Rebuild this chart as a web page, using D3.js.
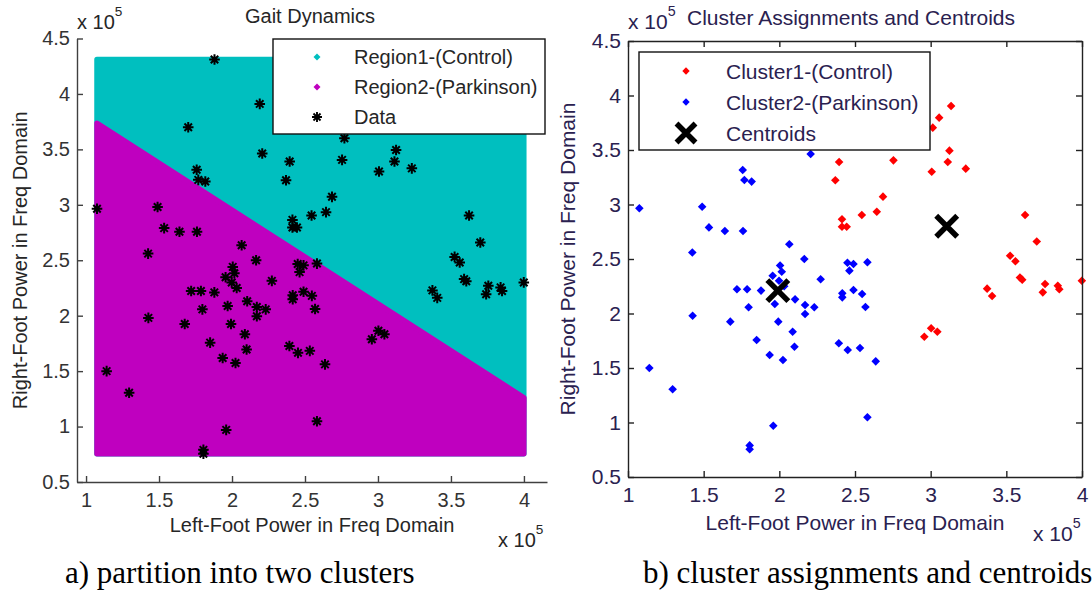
<!DOCTYPE html>
<html>
<head>
<meta charset="utf-8">
<script src="https://cdn.jsdelivr.net/npm/d3@7/dist/d3.min.js"></script>
<style>
  body { margin: 0; background: #fff; }
  svg text { font-family: Arial, "Liberation Sans", sans-serif; }
</style>
</head>
<body>
<svg id="chart" width="1092" height="594"></svg>
<script>
// All powers are in units of 1e5 (hence the "x 10^5" labels)

// Cluster1 - control subjects [left-foot, right-foot]
const controlPoints = [
  [2.958, 1.787], [3.003, 1.864], [3.044, 1.833], [3.373, 2.228], [3.406, 2.161],
  [3.525, 2.530], [3.560, 2.480], [3.590, 2.330], [3.605, 2.310], [3.701, 2.660],
  [3.756, 2.270], [3.741, 2.194], [3.840, 2.255], [3.850, 2.222], [3.999, 2.300],
  [2.395, 3.390], [2.370, 3.222], [2.754, 3.405], [3.007, 3.300], [3.113, 3.390],
  [3.124, 3.494], [3.232, 3.329], [3.014, 3.705], [3.056, 3.797], [3.135, 3.904],
  [2.685, 3.072], [2.644, 2.934], [2.545, 2.904], [2.414, 2.864], [2.414, 2.796],
  [2.445, 2.796], [3.624, 2.904], [1.880, 4.310], [2.190, 3.910], [2.770, 3.600]
];

// Cluster2 - parkinson subjects [left-foot, right-foot]
const parkinsonPoints = [
  [1.075, 2.965], [1.490, 2.980], [1.535, 2.790], [1.640, 2.757], [1.760, 2.757],
  [1.758, 3.316], [1.769, 3.225], [1.817, 3.210], [2.207, 3.463], [2.066, 2.635],
  [2.165, 2.500], [1.425, 2.560], [2.005, 2.440], [2.016, 2.383], [1.956, 2.347],
  [1.998, 2.300], [2.032, 2.250], [2.273, 2.314], [1.720, 2.222], [1.787, 2.222],
  [1.879, 2.210], [2.104, 2.130], [1.970, 2.087], [1.797, 2.057], [2.170, 2.078],
  [2.231, 2.057], [2.170, 1.995], [1.427, 1.980], [1.676, 1.925], [1.993, 1.925],
  [2.088, 1.833], [1.850, 1.757], [2.100, 1.695], [1.936, 1.619], [2.024, 1.573],
  [1.141, 1.500], [1.295, 1.305], [1.960, 0.970], [1.804, 0.790], [1.804, 0.755],
  [2.450, 2.466], [2.490, 2.454], [2.463, 2.393], [2.582, 2.470], [2.416, 2.185],
  [2.416, 2.148], [2.490, 2.216], [2.547, 2.179], [2.569, 2.060], [2.393, 1.727],
  [2.452, 1.665], [2.533, 1.683], [2.637, 1.561], [2.582, 1.048], [1.700, 3.700]
];

const centroids = [[1.99, 2.21], [3.106, 2.80]];

// Decision boundary between the two regions (end points)
const boundary = [[1.075, 3.736], [4.0, 1.26]];

const xTicks = [1, 1.5, 2, 2.5, 3, 3.5, 4];
const yTicks = [0.5, 1, 1.5, 2, 2.5, 3, 3.5, 4, 4.5];

const leftLegend = ['Region1-(Control)', 'Region2-(Parkinson)', 'Data'];
const rightLegend = ['Cluster1-(Control)', 'Cluster2-(Parkinson)', 'Centroids'];

const CYAN = '#00bfbf';
const MAGENTA = '#bf00bf';

const svg = d3.select('#chart');
const allPoints = controlPoints.concat(parkinsonPoints);

// Marker paths
const diamond = r => `M0,${-r}L${r},0L0,${r}L${-r},0Z`;
const asterisk = r => {
  const d = r * Math.SQRT1_2;
  return `M${-r},0H${r}M0,${-r}V${r}M${-d},${-d}L${d},${d}M${-d},${d}L${d},${-d}`;
};
const cross = r => `M${-r},${-r}L${r},${r}M${-r},${r}L${r},${-r}`;

/**
 * Draws the axes of one panel.
 */
function drawAxes(x, y, opts) {
  const g = svg.append('g');

  const bottom = g.append('g')
    .attr('transform', `translate(0,${y.range()[0]})`)
    .call(d3.axisBottom(x).tickValues(xTicks).tickFormat(d => d)
      .tickSizeInner(-6).tickSizeOuter(0).tickPadding(opts.xPad));

  const left = g.append('g')
    .attr('transform', `translate(${x.range()[0]},0)`)
    .call(d3.axisLeft(y).tickValues(yTicks).tickFormat(d => d)
      .tickSizeInner(-6).tickSizeOuter(0).tickPadding(7));

  const axes = [bottom, left];

  // The right panel has a full box
  if(opts.box) {
    axes.push(g.append('g')
      .attr('transform', `translate(0,${y.range()[1]})`)
      .call(d3.axisTop(x).tickValues(xTicks).tickFormat('')
        .tickSizeInner(-6).tickSizeOuter(0)));
    axes.push(g.append('g')
      .attr('transform', `translate(${x.range()[1]},0)`)
      .call(d3.axisRight(y).tickValues(yTicks).tickFormat('')
        .tickSizeInner(-6).tickSizeOuter(0)));
  }

  axes.forEach(a => {
    a.attr('font-family', null).attr('font-size', opts.fontSize);
    a.selectAll('.domain, .tick line')
      .attr('stroke', opts.axisColor).attr('stroke-width', 1.4);
    a.selectAll('.tick text').attr('fill', opts.textColor);
  });
}

/**
 * Writes the title, axis labels and the x 10^5 exponents of a panel.
 */
function drawLabels(x, y, opts) {
  const [x0, x1] = x.range();
  const [yb, yt] = y.range();
  const g = svg.append('g')
    .attr('fill', opts.textColor)
    .attr('font-size', opts.fontSize);

  g.append('text')
    .attr('x', (x0 + x1) / 2 + opts.titleShift).attr('y', opts.titleY)
    .attr('text-anchor', 'middle')
    .text(opts.title);

  g.append('text')
    .attr('x', (x0 + x1) / 2).attr('y', opts.xLabelY)
    .attr('text-anchor', 'middle')
    .text('Left-Foot Power in Freq Domain');

  g.append('text')
    .attr('transform', `translate(${opts.yLabelX},${(yb + yt) / 2}) rotate(-90)`)
    .attr('text-anchor', 'middle')
    .text('Right-Foot Power in Freq Domain');

  // Exponent labels, top-left and bottom-right
  [[x.range()[0], 29], [opts.expX, opts.expY]].forEach(([ex, ey]) => {
    const t = g.append('text').attr('x', ex).attr('y', ey);
    t.append('tspan').text('x 10');
    t.append('tspan').attr('dy', -13).attr('font-size', opts.fontSize * 0.68).text('5');
  });
}

/**
 * Draws a legend box.
 */
function drawLegend(box, entries, draw, opts) {
  const g = svg.append('g');
  g.append('rect')
    .attr('x', box[0]).attr('y', box[1])
    .attr('width', box[2]).attr('height', box[3])
    .attr('fill', '#fff').attr('stroke', '#111').attr('stroke-width', 1.4);

  const row = g.selectAll('.entry')
    .data(entries)
    .join('g')
      .attr('transform', (d, i) => `translate(0,${opts.firstRow + i * opts.rowGap})`);

  row.each(function(d, i) { draw(d3.select(this), i); });

  row.append('text')
    .attr('x', opts.textX).attr('y', 0).attr('dy', '0.36em')
    .attr('fill', opts.textColor).attr('font-size', opts.fontSize)
    .text(d => d);
}

// ---------------- a) partition into two clusters ----------------
const xL = d3.scaleLinear().domain([0.938, 4.158]).range([77, 547]);
const yL = d3.scaleLinear().domain([0.5, 4.5]).range([482, 38.5]);

const lineL = d3.line().x(d => xL(d[0])).y(d => yL(d[1]));
const [gx0, gx1] = d3.extent(allPoints, d => d[0]);
const [gy0, gy1] = d3.extent(allPoints, d => d[1]);

const regions = svg.append('g')
  .attr('stroke-width', 5.5).attr('stroke-linejoin', 'round');

regions.append('path')
  .datum([[gx0, gy0], [gx0, gy1], [gx1, gy1], [gx1, gy0]])
  .attr('d', d => lineL(d) + 'Z')
  .attr('fill', CYAN).attr('stroke', CYAN);

regions.append('path')
  .datum([[gx0, gy0], boundary[0], boundary[1], [gx1, gy0]])
  .attr('d', d => lineL(d) + 'Z')
  .attr('fill', MAGENTA).attr('stroke', MAGENTA);

svg.append('g')
  .selectAll('path')
  .data(allPoints)
  .join('path')
    .attr('transform', d => `translate(${xL(d[0])},${yL(d[1])})`)
    .attr('d', asterisk(5.3))
    .attr('stroke', '#000').attr('stroke-width', 2).attr('fill', 'none');

drawAxes(xL, yL, { xPad: 11, fontSize: 20, axisColor: '#404040', textColor: '#333', box: false });
drawLabels(xL, yL, {
  fontSize: 20, textColor: '#262626', title: 'Gait Dynamics', titleShift: -2, titleY: 23,
  xLabelY: 532, yLabelX: 27, expX: 498, expY: 547
});

drawLegend([273, 39, 272, 95], leftLegend, (g, i) => {
  if(i < 2)
    g.append('path').attr('transform', 'translate(317,0)').attr('d', diamond(3.5))
      .attr('fill', i === 0 ? CYAN : MAGENTA);
  else
    g.append('path').attr('transform', 'translate(317,0)').attr('d', asterisk(5))
      .attr('stroke', '#000').attr('stroke-width', 1.9).attr('fill', 'none');
}, { firstRow: 57, rowGap: 30, textX: 354, fontSize: 20, textColor: '#262626' });

// ---------------- b) cluster assignments and centroids ----------------
const xR = d3.scaleLinear().domain([1, 4]).range([628, 1082]);
const yR = d3.scaleLinear().domain([0.5, 4.5]).range([477, 41]);
const RTEXT = '#2a2150';

const marks = svg.append('g');

marks.selectAll('.control')
  .data(controlPoints)
  .join('path')
    .attr('transform', d => `translate(${xR(d[0])},${yR(d[1])})`)
    .attr('d', diamond(4.3)).attr('fill', '#ff0000');

marks.selectAll('.parkinson')
  .data(parkinsonPoints)
  .join('path')
    .attr('transform', d => `translate(${xR(d[0])},${yR(d[1])})`)
    .attr('d', diamond(4.3)).attr('fill', '#0000ff');

marks.selectAll('.centroid')
  .data(centroids)
  .join('path')
    .attr('transform', d => `translate(${xR(d[0])},${yR(d[1])})`)
    .attr('d', cross(10.5))
    .attr('stroke', '#000').attr('stroke-width', 5.5).attr('fill', 'none');

drawAxes(xR, yR, { xPad: 10, fontSize: 21, axisColor: '#222', textColor: RTEXT, box: true });
drawLabels(xR, yR, {
  fontSize: 21, textColor: RTEXT, title: 'Cluster Assignments and Centroids', titleShift: -4, titleY: 25,
  xLabelY: 530, yLabelX: 575, expX: 1033, expY: 541
});

drawLegend([639, 52, 291, 98], rightLegend, (g, i) => {
  if(i < 2)
    g.append('path').attr('transform', 'translate(686,0)').attr('d', diamond(3.7))
      .attr('fill', i === 0 ? '#ff0000' : '#0000ff');
  else
    g.append('path').attr('transform', 'translate(686,0)').attr('d', cross(9.5))
      .attr('stroke', '#000').attr('stroke-width', 5.5).attr('fill', 'none');
}, { firstRow: 71, rowGap: 31, textX: 726, fontSize: 21, textColor: RTEXT });

// ---------------- captions ----------------
svg.append('g')
  .attr('font-size', 31).attr('fill', '#000')
  .selectAll('text')
  .data([['a) partition into two clusters', 65], ['b) cluster assignments and centroids', 643]])
  .join('text')
    .attr('x', d => d[1]).attr('y', 583)
    .style('font-family', '"Liberation Serif", "Times New Roman", serif')
    .text(d => d[0]);
</script>
</body>
</html>
